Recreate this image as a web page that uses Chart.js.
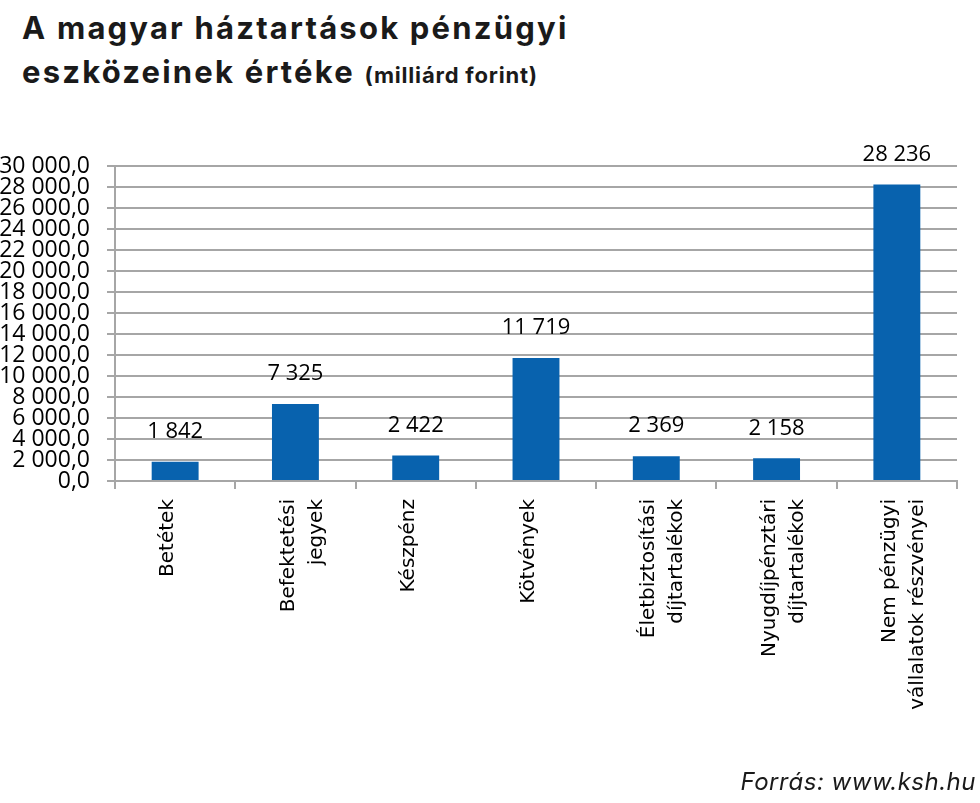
<!DOCTYPE html>
<html lang="hu">
<head>
<meta charset="utf-8">
<title>A magyar háztartások pénzügyi eszközeinek értéke</title>
<script src="https://cdn.jsdelivr.net/npm/chart.js@4/dist/chart.umd.min.js"></script>
<style>
    html, body {
        margin: 0;
        padding: 0;
        background: #fff;
    }
    body {
        width: 980px;
        height: 803px;
        position: relative;
        overflow: hidden;
    }
    .title {
        position: absolute;
        left: 22px;
        top: 6px;
        font-family: Inter, 'DejaVu Sans', sans-serif;
        font-weight: 700;
        font-size: 31px;
        letter-spacing: 2.2px;
        line-height: 44px;
        color: #1a1a1a;
    }
    .title small {
        font-size: 22px;
        letter-spacing: 0.8px;
    }
    .source {
        position: absolute;
        right: 4px;
        top: 767px;
        font-family: Inter, 'DejaVu Sans', sans-serif;
        font-style: italic;
        font-size: 24px;
        letter-spacing: 0.5px;
        color: #1a1a1a;
    }
    #chartWrap {
        position: absolute;
        left: 0;
        top: 0;
        width: 980px;
        height: 803px;
    }
</style>
</head>
<body>
<div class="title">A magyar háztartások pénzügyi<br>eszközeinek értéke <small>(milliárd forint)</small></div>
<div id="chartWrap"><canvas id="assetChart"></canvas></div>
<div class="source">Forrás: www.ksh.hu</div>

<script>
// Kategóriák és értékek (milliárd forint)
const categories = [
    'Betétek',
    ['Befektetési', 'jegyek'],
    'Készpénz',
    'Kötvények',
    ['Életbiztosítási', 'díjtartalékok'],
    ['Nyugdíjpénztári', 'díjtartalékok'],
    ['Nem pénzügyi', 'vállalatok részvényei']
];
const values = [1842, 7325, 2422, 11719, 2369, 2158, 28236];

// Y tengely: 0 - 30 000, lépésköz 2 000
const yMin = 0;
const yMax = 30000;
const yStep = 2000;

const barColor = '#0862AE';
const gridColor = '#a6a6a6';

/**
 * Ezres tagolás szóközzel (pl. 28 236)
 */
function groupThousands(n) {
    return String(Math.round(n)).replace(/\B(?=(\d{3})+(?!\d))/g, ' ');
}

// Értékfeliratok az oszlopok fölött
const valueLabels = {
    id: 'valueLabels',
    afterDatasetsDraw(chart) {
        const ctx = chart.ctx;
        const meta = chart.getDatasetMeta(0);
        ctx.save();
        ctx.font = '22px "Open Sans", sans-serif';
        ctx.fillStyle = '#000';
        ctx.textAlign = 'center';
        ctx.textBaseline = 'middle';
        meta.data.forEach((bar, i) => {
            ctx.fillText(groupThousands(values[i]), bar.x, bar.y - 30);
        });
        ctx.restore();
    }
};

document.addEventListener('DOMContentLoaded', function () {
    const ctx = document.getElementById('assetChart');

    new Chart(ctx, {
        type: 'bar',
        data: {
            labels: categories,
            datasets: [{
                data: values,
                backgroundColor: barColor,
                borderWidth: 0,
                categoryPercentage: 1,
                barPercentage: 0.39
            }]
        },
        options: {
            responsive: true,
            maintainAspectRatio: false,
            animation: false,
            layout: {
                padding: { left: 0, top: 166, right: 23, bottom: 0 }
            },
            plugins: {
                legend: { display: false },
                tooltip: { enabled: false }
            },
            scales: {
                x: {
                    offset: true,
                    afterFit(scale) {
                        scale.height = 322;
                    },
                    grid: {
                        offset: true,
                        drawOnChartArea: false,
                        drawTicks: true,
                        tickLength: 8,
                        color: gridColor,
                        lineWidth: 2
                    },
                    border: {
                        color: gridColor,
                        width: 2
                    },
                    ticks: {
                        maxRotation: 90,
                        minRotation: 90,
                        autoSkip: false,
                        padding: 10,
                        labelOffset: -7,
                        color: '#000',
                        font: {
                            family: '"DejaVu Sans", sans-serif',
                            size: 20,
                            lineHeight: 1.4
                        }
                    }
                },
                y: {
                    min: yMin,
                    max: yMax,
                    afterFit(scale) {
                        scale.width = 115;
                    },
                    grid: {
                        color: gridColor,
                        lineWidth: 2,
                        tickLength: 8
                    },
                    border: {
                        color: gridColor,
                        width: 2
                    },
                    ticks: {
                        stepSize: yStep,
                        autoSkip: false,
                        padding: 17,
                        color: '#000',
                        font: {
                            family: '"Open Sans", sans-serif',
                            size: 23
                        },
                        callback: function (value) {
                            return groupThousands(value) + ',0';
                        }
                    }
                }
            }
        },
        plugins: [valueLabels]
    });
});
</script>
</body>
</html>
